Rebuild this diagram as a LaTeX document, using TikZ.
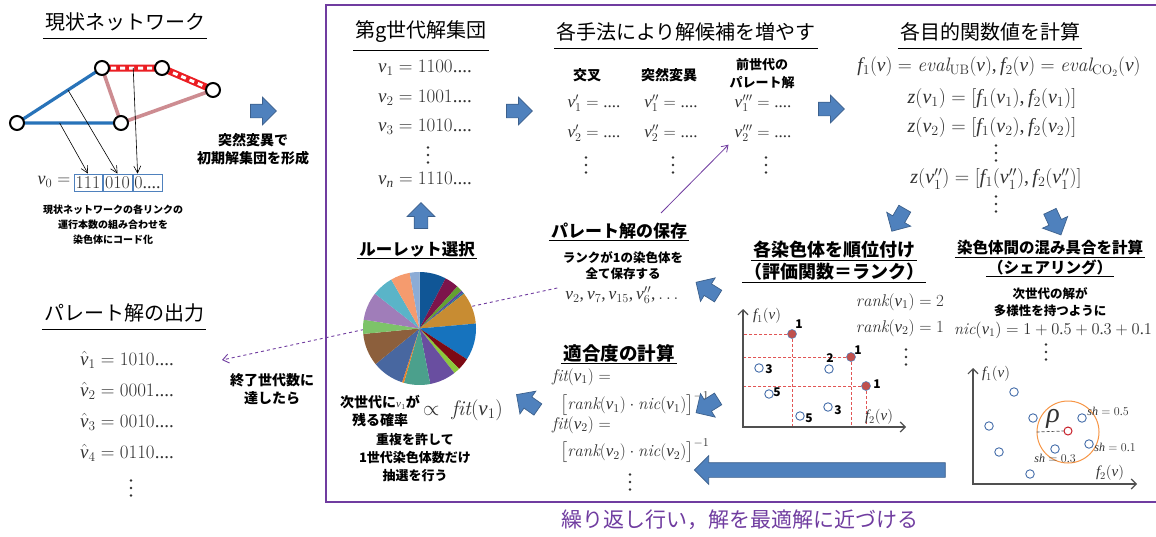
\RequirePackage{fix-cm}
\documentclass[tikz,border=0pt]{standalone}
\usepackage{amsmath}
\usepackage{fontspec}
\newfontfamily\jp{Noto Sans CJK JP}
\newfontfamily\tms{Liberation Serif}[NFSSFamily=tms]
\DeclareSymbolFont{tmsit}{TU}{tms}{m}{it}
\DeclareSymbolFont{tmsup}{TU}{tms}{m}{n}
\DeclareMathAlphabet{\mathit}{TU}{tms}{m}{it}
\DeclareMathAlphabet{\mathrm}{TU}{tms}{m}{n}
\newcommand\defml[1]{\DeclareMathSymbol{#1}{\mathalpha}{tmsit}{`#1}}
\newcommand\defmd[1]{\DeclareMathSymbol{#1}{\mathalpha}{tmsup}{`#1}}
\defml{a}\defml{c}\defml{e}\defml{f}\defml{h}\defml{i}\defml{k}\defml{l}\defml{n}\defml{r}\defml{s}\defml{t}\defml{v}\defml{z}
\defmd{0}\defmd{1}\defmd{2}\defmd{3}\defmd{4}\defmd{5}\defmd{6}\defmd{7}\defmd{8}\defmd{9}
\DeclareMathSymbol{,}{\mathpunct}{tmsup}{`,}
\DeclareMathSymbol{.}{\mathord}{tmsup}{`.}
\DeclareMathSymbol{=}{\mathrel}{tmsup}{`=}
\DeclareMathSymbol{+}{\mathbin}{tmsup}{`+}
\DeclareMathSymbol{(}{\mathopen}{tmsup}{`(}
\DeclareMathSymbol{)}{\mathclose}{tmsup}{`)}
\DeclareMathSymbol{[}{\mathopen}{tmsup}{`[}
\DeclareMathSymbol{]}{\mathclose}{tmsup}{`]}
\usetikzlibrary{shapes.arrows,arrows.meta,calc,backgrounds}
\definecolor{frm}{RGB}{112,60,160}
\definecolor{blk}{RGB}{79,129,189}
\definecolor{blkd}{RGB}{60,96,140}
\definecolor{mtxt}{RGB}{50,50,50}
\definecolor{netblue}{RGB}{40,115,185}
\definecolor{netred}{RGB}{235,30,35}
\definecolor{netpink}{RGB}{205,140,145}
\definecolor{reddot}{RGB}{192,80,77}
\definecolor{ptblue}{RGB}{70,110,170}
\definecolor{orng}{RGB}{247,150,70}
\definecolor{dred}{RGB}{225,85,85}
\definecolor{axc}{RGB}{80,80,80}
\definecolor{rcirc}{RGB}{200,30,40}
\definecolor{pc1}{RGB}{16,86,150}
\definecolor{pc2}{RGB}{125,20,75}
\definecolor{pc3}{RGB}{100,160,50}
\definecolor{pc4}{RGB}{90,70,160}
\definecolor{pc5}{RGB}{40,120,150}
\definecolor{pc6}{RGB}{200,140,50}
\definecolor{pc7}{RGB}{22,115,190}
\definecolor{pc8}{RGB}{125,10,20}
\definecolor{pc9}{RGB}{140,200,60}
\definecolor{pc10}{RGB}{105,78,160}
\definecolor{pc11}{RGB}{75,160,140}
\definecolor{pc12}{RGB}{235,130,40}
\definecolor{pc13}{RGB}{72,103,160}
\definecolor{pc14}{RGB}{140,95,60}
\definecolor{pc15}{RGB}{125,195,105}
\definecolor{pc16}{RGB}{160,125,185}
\definecolor{pc17}{RGB}{90,180,200}
\definecolor{pc18}{RGB}{245,155,110}
\definecolor{pc19}{RGB}{140,172,214}
\tikzset{
 hdrA/.style={font=\jp\fontsize{20}{24}\selectfont, inner xsep=2pt, inner ysep=7pt},
 hdrB/.style={font=\jp\bfseries\fontsize{#1}{#1}\selectfont, inner xsep=2pt, inner ysep=1.5pt},
 btxt/.style n args={2}{font=\jp\bfseries\fontsize{#1}{#2}\selectfont, align=center, inner sep=0pt},
 ulin/.style={line width=1.1pt, black},
 mt/.style={text=mtxt, font=\fontsize{#1}{#1}\selectfont, inner sep=0pt},
 barrow/.style={single arrow, fill=blk, draw=blkd, line width=0.7pt, inner xsep=0pt, inner ysep=6.5pt,
   minimum height=26pt, single arrow head extend=7pt},
 nnode/.style={circle, draw=black, line width=2pt, fill=white, minimum size=14pt, inner sep=0pt},
 rdot/.style={circle, fill=reddot, draw=blk, line width=0.5pt, minimum size=9pt, inner sep=0pt},
 bdot/.style={circle, draw=ptblue, line width=0.9pt, fill=white, minimum size=8.5pt, inner sep=0pt},
 rdash/.style={dred, dash pattern=on 3pt off 2pt, line width=0.9pt},
 axisl/.style={axc, line width=1.2pt, {Straight Barb[length=5pt,width=10pt]}-{Straight Barb[length=5pt,width=10pt]}},
 tarr/.style={line width=0.6pt, -{Straight Barb[length=7pt,width=7pt]}},
 plab/.style={font=\jp\bfseries\fontsize{12}{12}\selectfont, inner sep=0pt},
 codebox/.style={mt=18, draw=blk, line width=0.8pt, minimum height=17pt, inner xsep=1pt},
 vdot/.style={fill=mtxt},
}
\newcommand\vdt[1]{\fill[vdot] ([yshift=7.5pt]#1) circle[radius=1.4] (#1) circle[radius=1.4] ([yshift=-7.5pt]#1) circle[radius=1.4];}
\begin{document}
\begin{tikzpicture}[x=1pt,y=-1pt]
\useasboundingbox (0,0) rectangle (1156,536);
\begin{scope}[on background layer]
\fill[white] (0,0) rectangle (1156,536);
\end{scope}
% frame
\draw[frm, line width=2.6pt] (1160,5) -- (326,5) -- (326,502) -- (1160,502);
\node[font=\jp\fontsize{21}{21}\selectfont, text=frm] (loop) at (740,520) {繰り返し行い，解を最適解に近づける};

% ---------- current network
\node[hdrA] (h0) at (125,22) {現状ネットワーク};
\draw[ulin] (h0.south west) -- (h0.south east);
\node[nnode] (n1) at (17,123) {};
\node[nnode] (n2) at (102,68) {};
\node[nnode] (n3) at (162,68) {};
\node[nnode] (n4) at (213,90) {};
\node[nnode] (n5) at (121,123) {};
\begin{scope}[on background layer]
\draw[netblue, line width=3.2pt] (n1.center) -- (n2.center) (n1.center) -- (n5.center);
\draw[netpink, line width=3.6pt] (n2.center) -- (n5.center) -- (n4.center);
\draw[netred, line width=7pt] (n2.center) -- (n3.center) -- (n4.center);
\draw[white, line width=3pt, dash pattern=on 5pt off 4pt] (n2.center) -- (n3.center) -- (n4.center);
\end{scope}
\node[mt=18] (v0) at (54,182) {$v_0=$};
\node[codebox, minimum width=28pt] (c1) at (88,182.5) {$111$};
\node[codebox, minimum width=29pt] (c2) at (117.5,182.5) {$010$};
\node[codebox, minimum width=29pt] (c3) at (147.5,182.5) {$0....$};
\coordinate (a1) at ($(n1)!0.41!(n5)$);
\coordinate (a2) at ($(n1)!0.6!(n2)$);
\coordinate (a3) at ($(n2)!0.52!(n3)$);
\draw[tarr] (a1) -- (c1.north);
\draw[tarr] (a2) -- (c2.north);
\draw[tarr] (a3) -- ([xshift=5pt]c3.north west);
\node[btxt={10}{15}] (desc) at (113,225) {現状ネットワークの各リンクの\\運行本数の組み合わせを\\染色体にコード化};
\node[barrow] (ar0) at (260,111) {};
\node[btxt={14}{18}] (mut) at (253,149) {突然変異で\\初期解集団を形成};

% ---------- output
\node[hdrA] (h5) at (124,313) {パレート解の出力};
\draw[ulin] (h5.south west) -- (h5.south east);
\node[mt=19] (o1) at (127,360) {$\hat v_1 = 1010....$};
\node[mt=19] (o2) at (127,391) {$\hat v_2 = 0001....$};
\node[mt=19] (o3) at (127,422) {$\hat v_3 = 0010....$};
\node[mt=19] (o4) at (127,453) {$\hat v_4 = 0110....$};
\coordinate (od) at (131,488); \vdt{od}
\node[btxt={14}{18}] (term) at (272,389) {終了世代数に\\達したら};

% ---------- generation g
\node[hdrA] (h1) at (421,32) {第g世代解集団};
\draw[ulin] (h1.south west) -- (h1.south east);
\node[mt=19] (p1) at (425,68) {$v_1 = 1100....$};
\node[mt=19] (p2) at (425,98) {$v_2 = 1001....$};
\node[mt=19] (p3) at (425,127) {$v_3 = 1010....$};
\coordinate (pd) at (428,155); \vdt{pd}
\node[mt=19] (pn) at (425,180) {$v_n = 1110....$};
\node[barrow] (ar1) at (516,111) {};

% ---------- candidates
\node[hdrA] (h2) at (686,32) {各手法により解候補を増やす};
\draw[ulin] (h2.south west) -- (h2.south east);
\node[btxt={14}{18}] (colA) at (587,75) {交叉};
\node[btxt={14}{18}] (colB) at (669,75) {突然変異};
\node[btxt={13}{18}] (colC) at (762,74) {前世代の\\パレート解};
\node[mt=17] (u1) at (594,103) {$v_1' = ....$};
\node[mt=17] (u2) at (594,133) {$v_2' = ....$};
\coordinate (ud) at (586,165); \vdt{ud}
\node[mt=17] (w1) at (671,103) {$v_1'' = ....$};
\node[mt=17] (w2) at (671,133) {$v_2'' = ....$};
\coordinate (wd) at (673,165); \vdt{wd}
\node[mt=17] (x1) at (763,103) {$v_1''' = ....$};
\node[mt=17] (x2) at (763,133) {$v_2''' = ....$};
\coordinate (xd) at (766,165); \vdt{xd}
\node[barrow] (ar2) at (828,109) {};

% ---------- objective values
\node[hdrA] (h3) at (990,32) {各目的関数値を計算};
\draw[ulin] (h3.south west) -- (h3.south east);
\node[mt=19.5] (fe) at (999,67) {$f_1(v) = \mathit{eval}_{\mathrm{UB}}(v), f_2(v) = \mathit{eval}_{\mathrm{CO_2}}(v)$};
\node[mt=20] (z1) at (992,98) {$z(v_1) = [f_1(v_1), f_2(v_1)]$};
\node[mt=20] (z2) at (992,127) {$z(v_2) = [f_1(v_2), f_2(v_2)]$};
\coordinate (zd) at (996,153); \vdt{zd}
\node[mt=20] (z3) at (996,179) {$z(v_1'') = [f_1(v_1''), f_2(v_1'')]$};
\coordinate (zd2) at (996,204); \vdt{zd2}
\node[barrow] (ar3) at (900,217) [rotate=240] {};
\node[barrow] (ar4) at (1054,220) [rotate=-65] {};

% ---------- ranking
\node[hdrB=18] (h4a) at (834,250) {各染色体を順位付け};
\draw[ulin] (h4a.south west) -- (h4a.south east);
\node[hdrB=18] (h4b) at (834,272) {（評価関数＝ランク）};
\draw[ulin] (h4b.south west) -- (h4b.south east);
\node[mt=17] (r1) at (900,302) {$\mathit{rank}(v_1) = 2$};
\node[mt=17] (r2) at (900,328) {$\mathit{rank}(v_2) = 1$};
\coordinate (rd) at (906,357); \vdt{rd}
\coordinate (o1x) at (743,427);
\draw[axisl] (743,309) -- (o1x) -- (906,427);
\node[mt=15] (f1a) at (767,316) {$f_1(v)$};
\node[mt=15] (f2a) at (879,417) {$f_2(v)$};
\node[rdot] (d1) at (792,334) {};
\node[rdot] (d2) at (851,357) {};
\node[rdot] (d3) at (866,386) {};
\begin{scope}[on background layer]
\draw[rdash] (d1) -- (d1 -| o1x) (d1) -- (d1 |- o1x);
\draw[rdash] (d2) -- (d2 -| o1x) (d2) -- (d2 |- o1x);
\draw[rdash] (d3) -- (d3 -| o1x) (d3) -- (d3 |- o1x);
\end{scope}
\node[plab] (l1) at (799,324) {1};
\node[plab] (l2) at (858,350) {1};
\node[plab] (l3) at (877,384) {1};
\node[plab] (l4) at (830,358) {2};
\node[bdot] (e1) at (759,368) {};
\node[bdot] (e2) at (829,369) {};
\node[bdot] (e3) at (769,394) {};
\node[bdot] (e4) at (828,407) {};
\node[bdot] (e5) at (800,416) {};
\node[plab] (m1) at (769,369) {3};
\node[plab] (m3) at (777,392) {5};
\node[plab] (m4) at (838,410) {3};
\node[plab] (m5) at (809,418) {5};

% ---------- sharing
\node[hdrB=15.5] (h7a) at (1050,248) {染色体間の混み具合を計算};
\draw[ulin] (h7a.south west) -- (h7a.south east);
\node[hdrB=15.5] (h7b) at (1050,267) {（シェアリング）};
\draw[ulin] (h7b.south west) -- (h7b.south east);
\node[btxt={12.5}{17}] (div) at (1050,302) {次世代の解が\\多様性を持つように};
\node[mt=16.5] (nic) at (1053,330) {$\mathit{nic}(v_1) = 1 + 0.5 + 0.3 + 0.1$};
\coordinate (nd) at (1046,352); \vdt{nd}
\coordinate (o2x) at (973,484);
\draw[axisl] (973,368) -- (o2x) -- (1137,484);
\node[mt=15] (f1b) at (996,374) {$f_1(v)$};
\node[mt=15] (f2b) at (1110,473) {$f_2(v)$};
\node[circle, draw=orng, line width=1pt, minimum size=62pt, inner sep=0pt] (oc) at (1068,432) {};
\node[circle, draw=rcirc, line width=1pt, fill=white, minimum size=8pt, inner sep=0pt] (rc) at (1068,431) {};
\draw[axc, densely dashed, line width=0.7pt] (oc.west) -- (rc.west);
\node[mt=28, font=\tms\itshape\fontsize{28}{28}\selectfont] (rho) at (1053,419) {ρ};
\node[bdot] (g1) at (1014,392) {};
\node[bdot] (g2) at (989,426) {};
\node[bdot] (g3) at (999,452) {};
\node[bdot] (g4) at (1033,418) {};
\node[bdot] (g5) at (1082,418) {};
\node[bdot] (g6) at (1089,444) {};
\node[bdot] (g7) at (1055,449) {};
\node[bdot] (g8) at (1030,474) {};
\node[mt=12] (s1) at (1108,411) {$sh = 0.5$};
\node[mt=12] (s2) at (1115,447) {$sh = 0.1$};
\node[mt=12] (s3) at (1055,458) {$sh = 0.3$};
\node[barrow, minimum height=251pt, inner ysep=7pt, single arrow head extend=7pt] (big) at (823.5,470) [rotate=180] {};

% ---------- pareto save
\node[hdrB=17] (h6) at (619,231) {パレート解の保存};
\draw[ulin] (h6.south west) -- (h6.south east);
\node[btxt={12.5}{16}] (save) at (623,266) {ランクが1の染色体を\\全て保存する};
\node[mt=17.5] (pl) at (622,295) {$v_2, v_7, v_{15}, v_6'', \ldots$};
\node[barrow] (ar5) at (710,291) [rotate=148] {};
\coordinate (ps) at (661,213);
\draw[frm, line width=0.8pt, -{Straight Barb[length=6pt,width=8pt]}] (ps) -- ([xshift=-6pt,yshift=-3pt]x2.south west);

% ---------- fitness
\node[hdrB=18.5] (h8) at (619,353) {適合度の計算};
\draw[ulin] (h8.south west) -- (h8.south east);
\node[mt=17, anchor=west] (ft1) at (552,377) {$\mathit{fit}(v_1) =$};
\node[mt=17, anchor=west] (ft2) at (560,404) {$\bigl[\mathit{rank}(v_1)\cdot \mathit{nic}(v_1)\bigr]^{-1}$};
\node[mt=17, anchor=west] (ft3) at (552,425) {$\mathit{fit}(v_2) =$};
\node[mt=17, anchor=west] (ft4) at (560,451) {$\bigl[\mathit{rank}(v_2)\cdot \mathit{nic}(v_2)\bigr]^{-1}$};
\coordinate (ftd) at (630,482); \vdt{ftd}
\node[barrow] (ar6) at (710,404) [rotate=212] {};
\node[barrow] (ar7) at (530,404) [rotate=145] {};

% ---------- roulette
\node[barrow] (ar8) at (421,219) [rotate=90] {};
\node[hdrB=16.5] (h9) at (417,249) {ルーレット選択};
\draw[ulin] (h9.south west) -- (h9.south east);
\coordinate (dend) at (222,360);
\draw[frm, dashed, line width=0.9pt, -{Straight Barb[length=6pt,width=9pt]}] ([xshift=-8pt,yshift=7pt]pl.west) -- (dend);
\coordinate (pie) at (419.5,328.5);
\foreach \a/\b/\c in {0/27.5/pc1, 27.5/42/pc2, 42/48/pc3, 48/50.5/pc4, 50.5/52/pc5, 52/85/pc6, 85/123/pc7, 123/135.5/pc8, 135.5/142/pc9, 142/169/pc10, 169/196/pc11, 196/198/pc12, 198/231/pc13, 231/264.5/pc14, 264.5/279/pc15, 279/308/pc16, 308/330/pc17, 330/350/pc18, 350/360/pc19}{
  \pgfmathsetmacro\sa{\a-90}
  \pgfmathsetmacro\sb{\b-90}
  \fill[\c] (pie) -- ++(\sa:56.5) arc[start angle=\sa, end angle=\sb, radius=56.5] -- cycle;
}
\node[btxt={14}{18}] (prob) at (380,411) {次世代に{\mdseries\color{mtxt}\fontsize{11}{11}\selectfont$v_1$}が\\残る確率};
\node[mt=21] (prop) at (463,410) {$\propto\ \mathit{fit}(v_1)$};
\node[btxt={13}{18}] (dup) at (415,458) {重複を許して\\1世代染色体数だけ\\抽選を行う};
\end{tikzpicture}
\end{document}
